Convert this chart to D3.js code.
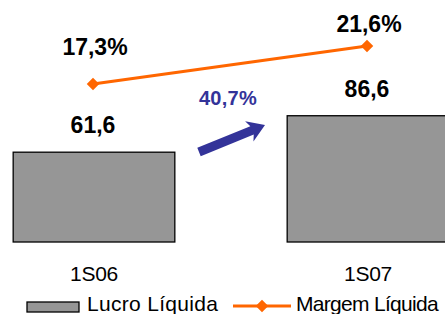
<!DOCTYPE html>
<html>
<head>
<meta charset="utf-8">
<script src="https://cdn.jsdelivr.net/npm/d3@7"></script>
<style>
  html, body { margin: 0; padding: 0; background: #fff; }
  #chart { width: 445px; height: 314px; overflow: hidden; }
  text { font-family: "Liberation Sans", Arial, sans-serif; }
</style>
</head>
<body>
<div id="chart"></div>
<script>
const categories = ["1S06", "1S07"];
const lucroValues = [61.6, 86.6];
const lucroLabels = ["61,6", "86,6"];
const margemValues = [17.3, 21.6];
const margemLabels = ["17,3%", "21,6%"];
const growthLabel = "40,7%";
const legendNames = ["Lucro Líquida", "Margem Líquida"];

const width = 445, height = 314;

const svg = d3.select("#chart")
  .append("svg")
  .attr("width", width)
  .attr("height", height);

// X scale (bars centred at ~94 and ~368)
const x = d3.scaleBand()
  .domain(categories)
  .range([-43, 505])
  .paddingInner(0.41)
  .paddingOuter(0.205);

// Bar scale
const y = d3.scaleLinear()
  .domain([0, 100])
  .range([242, 96.2]);

// Line scale
const y2 = d3.scaleLinear()
  .domain([0, 25])
  .range([237, 16]);

const barData = categories.map((c, i) => ({ cat: c, v: lucroValues[i], label: lucroLabels[i] }));
const lineData = categories.map((c, i) => ({ cat: c, v: margemValues[i], label: margemLabels[i] }));

// Bars
svg.selectAll("rect.bar")
  .data(barData)
  .enter()
  .append("rect")
  .attr("class", "bar")
  .attr("x", d => x(d.cat))
  .attr("y", d => y(d.v))
  .attr("width", x.bandwidth())
  .attr("height", d => y(0) - y(d.v))
  .attr("fill", "#969696")
  .attr("stroke", "#000")
  .attr("stroke-width", 1.3);

// Bar value labels
svg.selectAll("text.bar-label")
  .data(barData)
  .enter()
  .append("text")
  .attr("class", "bar-label")
  .attr("x", d => x(d.cat) + x.bandwidth() / 2 - 1)
  .attr("y", d => y(d.v) - 19)
  .attr("text-anchor", "middle")
  .style("font-size", "23px")
  .style("font-weight", "bold")
  .text(d => d.label);

// Category labels
svg.selectAll("text.cat")
  .data(categories)
  .enter()
  .append("text")
  .attr("class", "cat")
  .attr("x", d => x(d) + x.bandwidth() / 2)
  .attr("y", 281)
  .attr("text-anchor", "middle")
  .style("font-size", "21px")
  .style("letter-spacing", "-0.3px")
  .text(d => d);

// Margin line
const cx = d => x(d.cat) + x.bandwidth() / 2 - 1;
svg.append("path")
  .datum(lineData)
  .attr("fill", "none")
  .attr("stroke", "#FF6600")
  .attr("stroke-width", 3)
  .attr("d", d3.line().x(cx).y(d => y2(d.v)));

const diamond = d3.symbol().type(d3.symbolDiamond2).size(100);
svg.selectAll("path.marker")
  .data(lineData)
  .enter()
  .append("path")
  .attr("class", "marker")
  .attr("transform", d => `translate(${cx(d)},${y2(d.v)})`)
  .attr("d", diamond)
  .attr("fill", "#FF6600");

const labelDy = [-29, -14];
svg.selectAll("text.line-label")
  .data(lineData)
  .enter()
  .append("text")
  .attr("class", "line-label")
  .attr("x", d => cx(d) + 2)
  .attr("y", (d, i) => y2(d.v) + labelDy[i])
  .attr("text-anchor", "middle")
  .style("font-size", "23px")
  .style("font-weight", "bold")
  .text(d => d.label);

// Growth annotation
svg.append("text")
  .attr("x", 228)
  .attr("y", 105)
  .attr("text-anchor", "middle")
  .style("font-size", "20px")
  .style("font-weight", "bold")
  .style("letter-spacing", "0.3px")
  .style("fill", "#333399")
  .text(growthLabel);

// Arrow
const tail = [199, 152], tip = [265, 125];
const ang = Math.atan2(tip[1] - tail[1], tip[0] - tail[0]);
const len = Math.hypot(tip[0] - tail[0], tip[1] - tail[1]);
const arrow = svg.append("g")
  .attr("transform", `translate(${tail[0]},${tail[1]}) rotate(${ang * 180 / Math.PI})`);
arrow.append("path")
  .attr("d", `M0,-4.5 L${len - 14},-4.5 L${len - 17},-11 L${len},0 L${len - 17},11 L${len - 14},4.5 L0,4.5 Z`)
  .attr("fill", "#333399");

// Legend
const lg = svg.append("g");
lg.append("rect")
  .attr("x", 27).attr("y", 302)
  .attr("width", 52).attr("height", 10)
  .attr("fill", "#969696")
  .attr("stroke", "#000")
  .attr("stroke-width", 1.3);
lg.append("text")
  .attr("x", 87).attr("y", 311)
  .style("font-size", "21px")
  .style("letter-spacing", "0.3px")
  .text(legendNames[0]);
lg.append("line")
  .attr("x1", 233).attr("x2", 291)
  .attr("y1", 306).attr("y2", 306)
  .attr("stroke", "#FF6600")
  .attr("stroke-width", 3);
lg.append("path")
  .attr("transform", "translate(262,306)")
  .attr("d", diamond)
  .attr("fill", "#FF6600");
lg.append("text")
  .attr("x", 296).attr("y", 311)
  .style("font-size", "21px")
  .style("letter-spacing", "-0.7px")
  .text(legendNames[1]);
</script>
</body>
</html>
